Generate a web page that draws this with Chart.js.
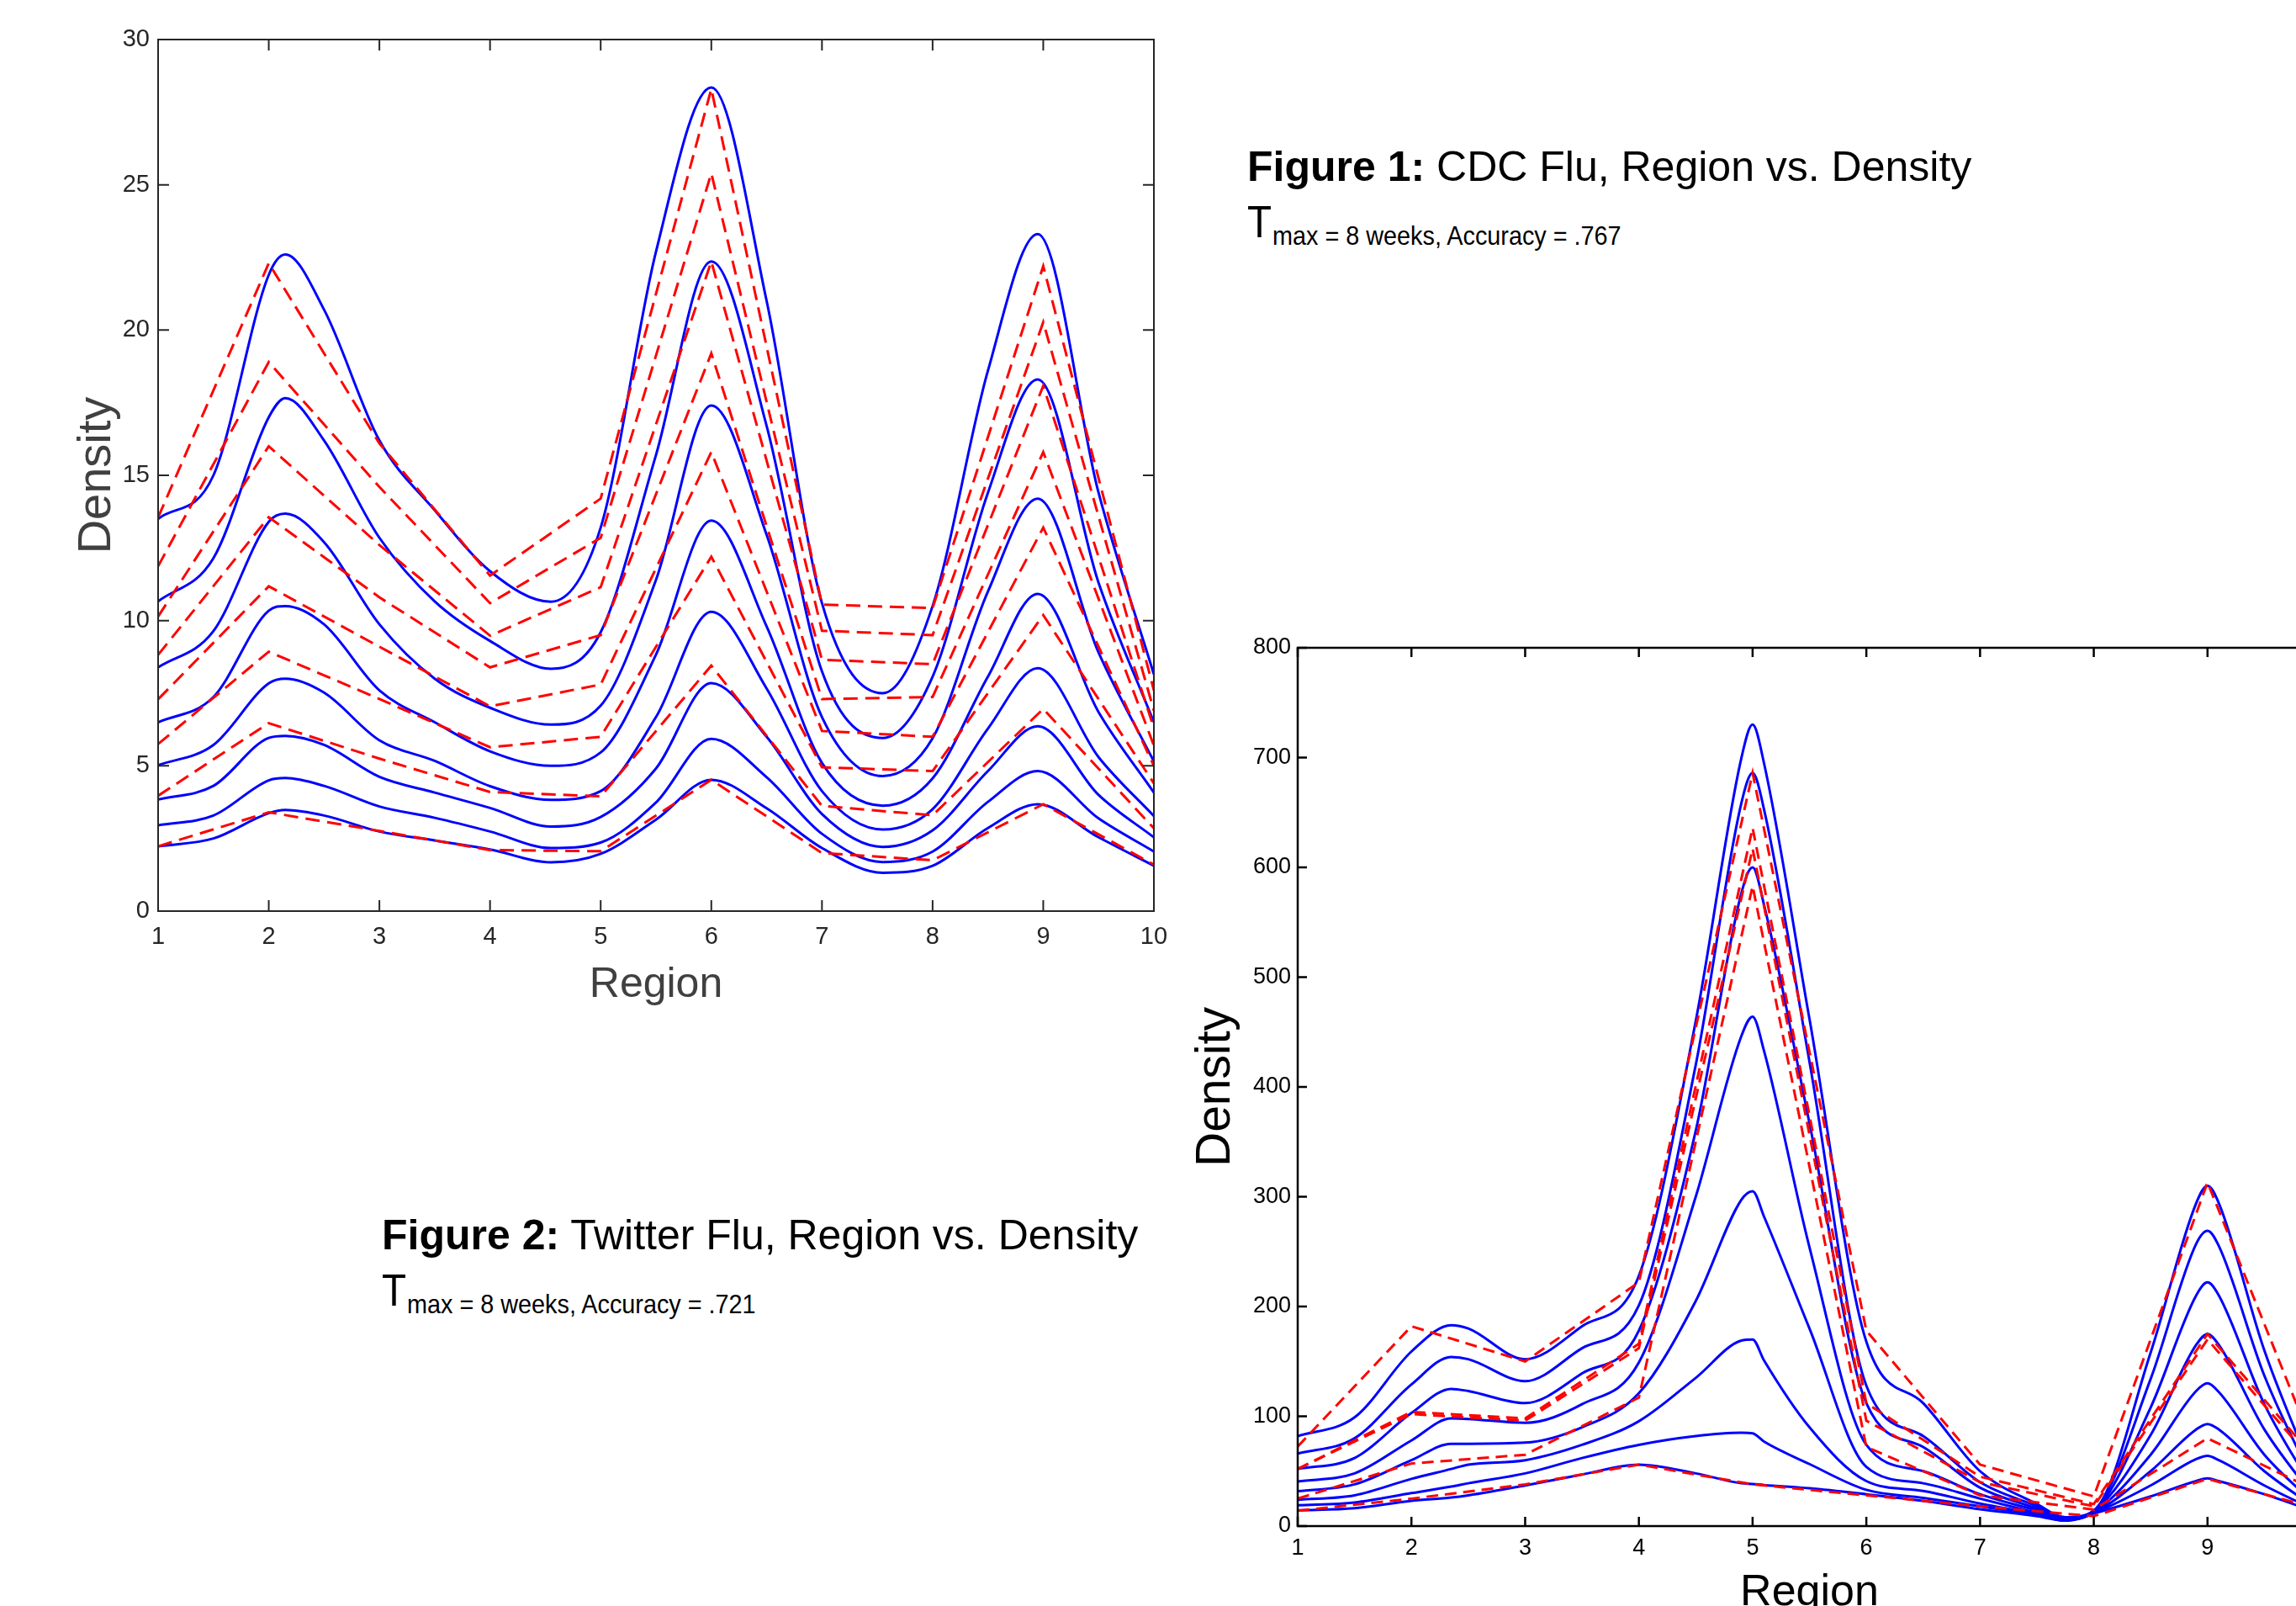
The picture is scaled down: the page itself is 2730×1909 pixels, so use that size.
<!DOCTYPE html>
<html>
<head>
<meta charset="utf-8">
<script src="https://cdn.jsdelivr.net/npm/chart.js@4.4.1/dist/chart.umd.min.js"></script>
<style>
  html, body { margin: 0; padding: 0; background: #fff; overflow: hidden; }
  body { width: 2730px; height: 1909px; position: relative; }
  canvas { position: absolute; }
  #twitterChart { left: 0; top: 0; }
  #cdcChart { left: 1380px; top: 700px; }
  .txt { position: absolute; line-height: 0; white-space: nowrap; color: #000;
         font-family: "Liberation Sans", Arial, sans-serif; transform-origin: 0 0; }
  .head { font-size: 50px; }
  .big { font-size: 54px; transform: scaleX(0.88); }
  .sub { font-size: 32px; transform: scaleX(0.9); }
</style>
</head>
<body>
<canvas id="twitterChart" width="1420" height="1240"></canvas>
<canvas id="cdcChart" width="1420" height="1260"></canvas>

<div class="txt head" style="left:1483px; top:198px;"><b>Figure 1:</b> CDC Flu, Region vs. Density</div>
<div class="txt big" style="left:1483px; top:263px;">T</div>
<div class="txt sub" style="left:1513px; top:280px;">max = 8 weeks, Accuracy = .767</div>

<div class="txt head" style="left:454px; top:1468px;"><b>Figure 2:</b> Twitter Flu, Region vs. Density</div>
<div class="txt big" style="left:454px; top:1533px;">T</div>
<div class="txt sub" style="left:484px; top:1550px;">max = 8 weeks, Accuracy = .721</div>

<script>
// ---- Twitter flu (top-left panel) ----
const twitterRegions = [1, 2, 3, 4, 5, 6, 7, 8, 9, 10];
const twitterFitX = [1, 1.5, 2, 2.15, 2.5, 3, 3.5, 4, 4.55, 5, 5.5, 6, 6.5, 7, 7.55, 8, 8.5, 8.95, 9.5, 10];

// smooth fitted curves (blue), top to bottom
const twitterFit = [
  [13.5, 15.0, 21.9, 22.6, 20.7, 16.2, 13.8, 11.7, 10.65, 13.2, 22.7, 28.35, 21.0, 10.6, 7.5, 10.5, 18.6, 23.3, 14.4, 8.15],
  [10.66, 12.15, 17.0, 17.66, 16.2, 12.85, 10.66, 9.3, 8.34, 9.6, 15.7, 22.36, 16.7, 8.25, 5.96, 8.07, 14.4, 18.3, 11.3, 6.5],
  [8.39, 9.64, 13.4, 13.68, 12.7, 9.87, 8.0, 7.0, 6.42, 7.07, 11.4, 17.4, 12.95, 6.68, 4.65, 5.95, 11.0, 14.2, 8.9, 5.15],
  [6.5, 7.37, 10.34, 10.5, 9.87, 7.6, 6.5, 5.5, 5.0, 5.46, 8.83, 13.44, 9.8, 5.1, 3.63, 4.57, 8.07, 10.92, 6.85, 4.08],
  [5.02, 5.72, 7.84, 8.0, 7.52, 5.88, 5.17, 4.3, 3.83, 4.13, 6.68, 10.3, 7.66, 4.13, 2.81, 3.51, 6.28, 8.36, 5.3, 3.27],
  [3.84, 4.31, 5.96, 6.03, 5.72, 4.62, 4.08, 3.55, 2.91, 3.24, 4.91, 7.85, 6.0, 3.34, 2.21, 2.78, 4.82, 6.36, 4.0, 2.54],
  [2.95, 3.29, 4.5, 4.58, 4.31, 3.6, 3.21, 2.74, 2.17, 2.36, 3.74, 5.93, 4.61, 2.66, 1.69, 2.05, 3.76, 4.82, 3.19, 2.05],
  [2.23, 2.5, 3.37, 3.48, 3.29, 2.74, 2.43, 2.12, 1.68, 1.97, 3.15, 4.52, 3.54, 2.17, 1.32, 1.56, 2.86, 3.68, 2.54, 1.56]
];

// observed values per region (red dashed)
const twitterObs = [
  [13.55, 22.3, 16.1, 11.55, 14.2, 28.3, 10.55, 10.43, 22.2, 7.6],
  [11.87, 18.9, 14.6, 10.6, 12.85, 25.4, 9.65, 9.5, 20.27, 6.9],
  [10.14, 16.0, 12.6, 9.48, 11.15, 22.36, 8.65, 8.5, 18.08, 6.3],
  [8.82, 13.56, 10.8, 8.39, 9.5, 19.2, 7.3, 7.37, 15.8, 5.7],
  [7.29, 11.18, 9.1, 7.05, 7.8, 15.8, 6.2, 6.0, 13.2, 5.0],
  [5.75, 8.93, 7.3, 5.64, 6.0, 12.2, 4.95, 4.82, 10.19, 4.4],
  [3.97, 6.47, 5.25, 4.1, 3.95, 8.45, 3.62, 3.3, 6.96, 2.85],
  [2.23, 3.4, 2.76, 2.1, 2.06, 4.52, 2.0, 1.75, 3.68, 1.6]
];

// ---- CDC flu (bottom-right panel) ----
const cdcRegions = [1, 2, 3, 4, 5, 6, 7, 8, 9, 10];
const cdcFitX = [1, 1.5, 2, 2.35, 2.5, 3, 3.5, 4, 4.5, 4.9, 5, 5.1, 5.5, 6, 6.5, 7, 7.5, 7.75, 8, 8.5, 8.9, 9, 9.1, 9.5, 10];

const cdcFit = [
  [82, 99, 159, 183, 180, 152, 182, 228, 460, 699, 730, 695, 462, 168, 112, 50, 20, 8, 14, 158, 294, 310, 294, 160, 30],
  [66, 80, 129, 154, 152, 132, 162, 201, 420, 658, 686, 653, 423, 128, 82, 40, 18, 7, 14, 134, 257, 269, 255, 137, 26],
  [52, 62, 103, 125, 123, 112, 139, 178, 360, 576, 600, 566, 367, 112, 72, 35, 16, 6.5, 13.5, 108, 210, 222, 210, 111, 22],
  [40.6, 48, 78, 98, 97.6, 94, 111, 149, 300, 446, 464, 433, 254, 74, 50, 29, 14, 6, 13, 83, 165, 175, 165, 88, 18],
  [31.7, 38, 60, 75, 75, 76, 90, 121, 205, 297, 305, 282, 180, 54, 39, 25, 12, 5.5, 12.5, 65, 123, 130, 122, 65, 15],
  [24, 28, 43, 52, 56, 60, 74, 95.5, 135, 169, 170, 151, 90, 41, 32, 20.5, 11, 5, 12, 50, 88, 93, 88, 50, 13],
  [19, 21.5, 30, 36, 39, 48, 62, 74, 82, 85, 84.5, 77, 56.5, 33, 25.7, 18, 10, 5, 12, 37, 61, 64, 60, 37, 12],
  [14.3, 16.3, 23, 26, 28, 37, 47, 56, 48, 39, 38.4, 37.4, 34.4, 29, 23, 15.4, 9, 5, 11.5, 27, 41, 43.4, 41, 29, 11]
];

const cdcObs = [
  [72.5, 182, 150, 222, 686, 178, 56, 27, 313, 55],
  [52, 104, 98, 166, 636, 112, 45, 20, 175, 55],
  [52, 102, 96, 162, 617, 96, 40, 18, 170, 50],
  [25, 57, 65, 117, 583, 72, 28, 15, 80, 30],
  [14, 25, 38, 56, 38, 28, 18, 9, 43, 15]
];

// box around the plot with inward ticks on all four sides
const frameBox = {
  id: 'frameBox',
  afterDatasetsDraw(chart, args, opts) {
    const { ctx, chartArea: a, scales: { x, y } } = chart;
    ctx.save();
    ctx.strokeStyle = opts.color;
    ctx.lineWidth = opts.width;
    ctx.strokeRect(a.left, a.top, a.right - a.left, a.bottom - a.top);
    ctx.beginPath();
    x.ticks.forEach(t => {
      const px = x.getPixelForValue(t.value);
      ctx.moveTo(px, a.bottom); ctx.lineTo(px, a.bottom - opts.len);
      ctx.moveTo(px, a.top); ctx.lineTo(px, a.top + opts.len);
    });
    y.ticks.forEach(t => {
      const py = y.getPixelForValue(t.value);
      ctx.moveTo(a.left, py); ctx.lineTo(a.left + opts.len, py);
      ctx.moveTo(a.right, py); ctx.lineTo(a.right - opts.len, py);
    });
    ctx.stroke();
    ctx.restore();
  }
};

function makeDatasets(fitX, fits, obsX, obs, lw, dash) {
  const sets = [];
  obs.forEach(vals => sets.push({
    data: obsX.map((x, i) => ({ x: x, y: vals[i] })),
    borderColor: '#ff0000',
    borderWidth: lw,
    borderDash: dash,
    pointRadius: 0,
    tension: 0,
    fill: false
  }));
  fits.forEach(vals => sets.push({
    data: fitX.map((x, i) => ({ x: x, y: vals[i] })),
    borderColor: '#0000ff',
    borderWidth: lw,
    pointRadius: 0,
    cubicInterpolationMode: 'monotone',
    fill: false
  }));
  return sets;
}

const narrow = "'Liberation Sans Narrow', 'Liberation Sans', Arial, sans-serif";
const sans = "'Liberation Sans', Arial, sans-serif";

window.onload = function () {
  new Chart(document.getElementById('twitterChart').getContext('2d'), {
    type: 'line',
    data: { datasets: makeDatasets(twitterFitX, twitterFit, twitterRegions, twitterObs, 3, [17, 9]) },
    options: {
      responsive: false,
      animation: false,
      layout: { padding: { top: 47, right: 48, left: 0, bottom: 0 } },
      plugins: {
        legend: { display: false },
        tooltip: { enabled: false },
        frameBox: { color: '#262626', width: 2, len: 13 }
      },
      scales: {
        x: {
          type: 'linear', min: 1, max: 10,
          grid: { display: false, drawTicks: false },
          border: { display: false },
          ticks: { stepSize: 1, autoSkip: false, maxRotation: 0, padding: 14, color: '#262626',
                   font: { family: narrow, size: 29 } },
          title: { display: true, text: 'Region', color: '#404040',
                   font: { family: sans, size: 50 }, padding: { top: 0, bottom: 39 } },
          afterFit(s) { s.height = 157; }
        },
        y: {
          min: 0, max: 30,
          grid: { display: false, drawTicks: false },
          border: { display: false },
          ticks: { stepSize: 5, autoSkip: false, padding: 10, color: '#262626',
                   font: { family: narrow, size: 29 } },
          title: { display: true, text: 'Density', color: '#404040',
                   font: { family: sans, size: 56 }, padding: { top: 82, bottom: 0 } },
          afterFit(s) { s.width = 188; }
        }
      }
    },
    plugins: [frameBox]
  });

  new Chart(document.getElementById('cdcChart').getContext('2d'), {
    type: 'line',
    data: { datasets: makeDatasets(cdcFitX, cdcFit, cdcRegions, cdcObs, 3, [14, 8]) },
    options: {
      responsive: false,
      animation: false,
      layout: { padding: { top: 70, right: 40, left: 0, bottom: 0 } },
      plugins: {
        legend: { display: false },
        tooltip: { enabled: false },
        frameBox: { color: '#000000', width: 2.5, len: 11 }
      },
      scales: {
        x: {
          type: 'linear', min: 1, max: 10,
          grid: { display: false, drawTicks: false },
          border: { display: false },
          ticks: { stepSize: 1, autoSkip: false, maxRotation: 0, padding: 10, color: '#000',
                   font: { family: sans, size: 27 } },
          title: { display: true, text: 'Region', color: '#000',
                   font: { family: sans, size: 52 }, padding: { top: 0, bottom: 35 } },
          afterFit(s) { s.height = 146; }
        },
        y: {
          min: 0, max: 800,
          grid: { display: false, drawTicks: false },
          border: { display: false },
          ticks: { stepSize: 100, autoSkip: false, padding: 8, color: '#000',
                   font: { family: sans, size: 27 } },
          title: { display: true, text: 'Density', color: '#000',
                   font: { family: sans, size: 57 }, padding: { top: 32, bottom: 0 } },
          afterFit(s) { s.width = 163; }
        }
      }
    },
    plugins: [frameBox]
  });
};
</script>
</body>
</html>
